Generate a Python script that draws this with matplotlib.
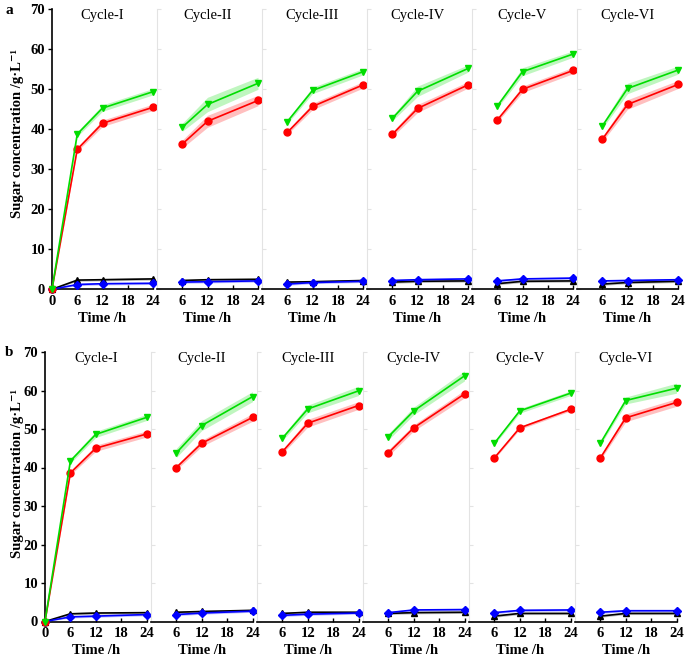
import numpy as np
import matplotlib.pyplot as plt

plt.rcParams['font.family'] = ['Liberation Serif', 'DejaVu Serif']

cycles = ['Cycle-I', 'Cycle-II', 'Cycle-III', 'Cycle-IV', 'Cycle-V', 'Cycle-VI']
t_first = [0, 6, 12, 24]
t_other = [6, 12, 24]

# panel a  (first cycle includes t=0)
a_green = [[0, 38.8, 45.3, 49.4], [40.5, 46.2, 51.5], [41.9, 49.7, 54.4],
           [42.7, 49.5, 55.2], [45.8, 54.4, 58.8], [40.8, 50.2, 54.8]]
a_red = [[0, 35.0, 41.5, 45.5], [36.3, 42.0, 47.2], [39.2, 45.7, 51.1],
         [38.7, 45.2, 51.1], [42.3, 50.0, 54.7], [37.5, 46.2, 51.2]]
a_black = [[0, 2.3, 2.4, 2.6], [2.2, 2.4, 2.5], [1.8, 1.9, 2.2],
           [1.8, 2.0, 2.1], [1.4, 2.0, 2.1], [1.3, 1.7, 2.0]]
a_blue = [[0, 1.2, 1.4, 1.5], [1.8, 1.9, 2.1], [1.3, 1.7, 2.0],
          [2.2, 2.4, 2.6], [2.1, 2.6, 2.8], [2.1, 2.2, 2.4]]
a_green_err = [[0, 0.6, 0.8, 0.8], [1.0, 1.8, 1.5], [0.5, 0.8, 0.8],
               [0.6, 1.3, 0.9], [0.5, 1.0, 0.8], [0.6, 1.3, 1.0]]
a_red_err = [[0, 0.5, 0.8, 0.8], [1.0, 1.5, 1.3], [0.5, 0.8, 0.8],
             [0.6, 1.0, 0.8], [0.5, 0.8, 0.8], [0.6, 1.2, 1.0]]

# panel b
b_green = [[0, 41.7, 48.6, 53.0], [43.8, 50.9, 58.4], [47.6, 55.2, 59.9],
           [48.0, 54.7, 63.8], [46.3, 54.7, 59.3], [46.3, 57.4, 60.6]]
b_red = [[0, 38.6, 45.0, 48.7], [40.0, 46.3, 53.0], [44.1, 51.5, 56.1],
         [43.8, 50.3, 59.1], [42.5, 50.3, 55.1], [42.5, 52.9, 56.9]]
b_black = [[0, 2.0, 2.2, 2.3], [2.4, 2.6, 2.9], [2.1, 2.4, 2.4],
           [2.1, 2.3, 2.4], [1.4, 2.1, 2.1], [1.4, 2.1, 2.1]]
b_blue = [[0, 1.2, 1.4, 1.8], [1.8, 2.2, 2.7], [1.6, 1.9, 2.2],
          [2.3, 3.0, 3.1], [2.3, 2.9, 3.0], [2.4, 2.8, 2.8]]
b_green_err = [[0, 0.6, 0.8, 0.8], [1.2, 1.3, 1.3], [0.6, 1.0, 1.2],
               [0.8, 1.0, 1.3], [0.4, 0.6, 0.6], [0.5, 0.9, 1.3]]
b_red_err = [[0, 0.5, 0.8, 0.8], [0.6, 0.8, 1.0], [0.5, 1.0, 1.0],
             [0.8, 0.8, 1.0], [0.3, 0.4, 0.4], [0.5, 1.0, 1.0]]
low_err = 0.3

GREEN = '#00dd00'
RED = '#ff0000'
BLUE = '#0000ff'
W, H = 685, 656

fig = plt.figure(figsize=(W / 100, H / 100), dpi=100)


def draw_panel(letter, lefts, width, top, bottom, green, red, black, blue, gerr, rerr, ylab_y):
    for k, name in enumerate(cycles):
        ax = fig.add_axes([lefts[k] / W, 1 - bottom / H, width / W, (bottom - top) / H])
        t = np.array(t_first if k == 0 else t_other)
        for vals, err, col, mk, ms in [(black[k], None, 'black', '^', 5),
                                       (blue[k], None, BLUE, 'D', 4),
                                       (red[k], rerr[k], RED, 'o', 5),
                                       (green[k], gerr[k], GREEN, 'v', 5)]:
            v = np.array(vals)
            e = np.array(err) if err is not None else np.full(len(v), low_err) * (v > 0)
            ax.fill_between(t, v - e, v + e, color=col, alpha=0.25, lw=0, clip_on=False)
            ax.plot(t, v, color=col, marker=mk, ms=ms, lw=1.2, clip_on=False, zorder=3)
        ax.set_xlim(0, 24)
        ax.set_ylim(0, 70)
        ax.spines['top'].set_visible(False)
        ax.spines['right'].set_visible(False)
        ax.spines['bottom'].set_linewidth(1.2)
        ax.set_xticks([0, 6, 12, 18, 24] if k == 0 else [6, 12, 18, 24])
        ax.tick_params(axis='x', direction='in', length=3, width=1, pad=4, labelsize=10.5)
        for lb in ax.get_xticklabels():
            lb.set_fontweight('bold')
        ax.set_yticks(range(0, 71, 10))
        if k == 0:
            ax.spines['left'].set_linewidth(1.2)
            ax.tick_params(axis='y', direction='out', length=3, width=1, labelsize=10.5, pad=2)
            for lb in ax.get_yticklabels():
                lb.set_fontweight('bold')
        else:
            ax.spines['left'].set_color('#e3e3e3')
            ax.tick_params(axis='y', direction='in', length=3, colors='#e3e3e3', labelleft=False)
        ax.set_xlabel('Time /h', fontsize=10.5, fontweight='bold', labelpad=3)
        ax.text(0.5, 1.0, name, transform=ax.transAxes, ha='center', va='top', fontsize=10.5)
    fig.text(5 / W, 1 - (top + 1) / H, letter, fontsize=11, fontweight='bold', va='center')
    fig.text(18 / W, 1 - ylab_y / H, 'Sugar concentration /g·L⁻¹', rotation=90,
             ha='center', va='center', fontsize=10.5, fontweight='bold')


draw_panel('a', [52 + 105 * k for k in range(6)], 101, 9.3, 289.3,
           a_green, a_red, a_black, a_blue, a_green_err, a_red_err, 134)
draw_panel('b', [45 + 106 * k for k in range(6)], 101.5, 352, 621.5,
           b_green, b_red, b_black, b_blue, b_green_err, b_red_err, 473)

fig.savefig('out.png', dpi=100)
